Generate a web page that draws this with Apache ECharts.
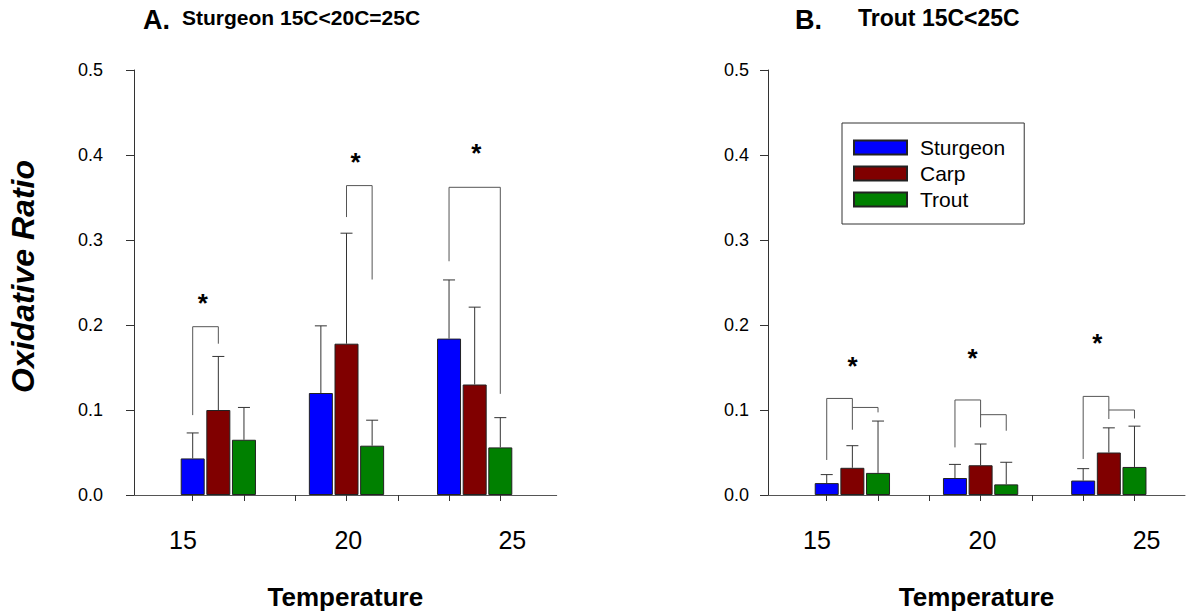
<!DOCTYPE html>
<html><head><meta charset="utf-8">
<script src="https://cdn.jsdelivr.net/npm/echarts@6/dist/echarts.min.js"></script>
<style>html,body{margin:0;padding:0;background:#fff}#c{width:1186px;height:616px}</style>
</head><body><div id="c"></div>
<script>
// ---------------- DATA ----------------
const temperatureLabels = ['15', '20', '25'];
const speciesNames = ['Sturgeon', 'Carp', 'Trout'];
const yTickLabels = ['0.0', '0.1', '0.2', '0.3', '0.4', '0.5'];

// Panel A: Sturgeon 15C<20C=25C  (means and upper error)
const sturgeonMeanA = [0.043, 0.120, 0.184];
const carpMeanA     = [0.100, 0.178, 0.130];
const troutMeanA    = [0.065, 0.058, 0.056];
const sturgeonErrA  = [0.030, 0.079, 0.069];
const carpErrA      = [0.063, 0.130, 0.091];
const troutErrA     = [0.038, 0.030, 0.035];

// Panel B: Trout 15C<25C
const sturgeonMeanB = [0.014, 0.020, 0.017];
const carpMeanB     = [0.032, 0.035, 0.050];
const troutMeanB    = [0.026, 0.0125, 0.033];
const sturgeonErrB  = [0.010, 0.016, 0.014];
const carpErrB      = [0.026, 0.025, 0.029];
const troutErrB     = [0.061, 0.026, 0.048];

// Significance brackets: [group, fromSpecies, toSpecies, yFrom, yTop, yTo]
const bracketsA = [
  [0, 0, 1, 0.094, 0.198, 0.178],
  [1, 1, 2, 0.327, 0.364, 0.2535],
  [2, 0, 2, 0.275, 0.362, 0.119]
];
const bracketsB = [
  [0, 0, 1, 0.0412, 0.1136, 0.0768],
  [0, 1, 2, 0.103, 0.103, 0.0972],
  [1, 0, 1, 0.056, 0.1118, 0.0795],
  [1, 1, 2, 0.0945, 0.0945, 0.0756],
  [2, 0, 1, 0.0424, 0.116, 0.0894],
  [2, 1, 2, 0.100, 0.100, 0.090]
];
// Significance stars: y value per group
const starYA = [0.233, 0.399, 0.410];
const starYB = [0.1588, 0.1678, 0.186];

// ---------------- LAYOUT ----------------
const FONT = "'Liberation Sans', Arial, sans-serif";
const SLOTS_PER_GROUP = 5;
const slot = (g, s) => g * SLOTS_PER_GROUP + s;
const tickSlots = [0, 2, 4, 6, 8, 10, 12];
const labelSlots = [-0.38, 6.07, 12.47];
const starOffsetA = [0.39, 1.35, 1.06];
const starOffsetB = [1.01, 0.69, 0.55];
const colors = ['#0000ff', '#800000', '#008000'];

function barSeries(means, s, axis) {
  return {
    type: 'bar', name: speciesNames[s], xAxisIndex: axis, yAxisIndex: axis,
    data: means.map((v, g) => [slot(g, s), v]),
    barWidth: 24, barGap: '-100%',
    itemStyle: { color: colors[s], borderColor: '#222', borderWidth: 1 },
    silent: true, z: 2
  };
}
function errSeries(means, errs, s, axis) {
  return {
    type: 'custom', xAxisIndex: axis, yAxisIndex: axis, silent: true, z: 3,
    data: means.map((v, g) => [slot(g, s), v, errs[g]]),
    encode: { x: 0, y: 1 },
    renderItem: (params, api) => {
      const x = api.value(0), m = api.value(1), e = api.value(2);
      const p0 = api.coord([x, m]), p1 = api.coord([x, m + e]);
      const st = { stroke: '#333', lineWidth: 1 };
      return { type: 'group', children: [
        { type: 'line', shape: { x1: p0[0], y1: p0[1], x2: p1[0], y2: p1[1] }, style: st },
        { type: 'line', shape: { x1: p1[0] - 6, y1: p1[1], x2: p1[0] + 6, y2: p1[1] }, style: st }
      ]};
    }
  };
}
function bracketSeries(br, axis) {
  return {
    type: 'custom', xAxisIndex: axis, yAxisIndex: axis, silent: true, z: 3,
    data: br.map(b => [slot(b[0], b[1]), slot(b[0], b[2]), b[3], b[4], b[5]]),
    encode: { x: [0, 1], y: [2, 3, 4] },
    renderItem: (params, api) => {
      const a = api.coord([api.value(0), api.value(2)]);
      const b = api.coord([api.value(0), api.value(3)]);
      const c = api.coord([api.value(1), api.value(3)]);
      const d = api.coord([api.value(1), api.value(4)]);
      return { type: 'polyline', shape: { points: [a, b, c, d] },
        style: { stroke: '#555', lineWidth: 1, fill: null } };
    }
  };
}
function starSeries(ys, offs, axis) {
  return {
    type: 'custom', xAxisIndex: axis, yAxisIndex: axis, silent: true, z: 4,
    data: ys.map((y, g) => [slot(g, 0) + offs[g], y]),
    encode: { x: 0, y: 1 },
    renderItem: (params, api) => {
      const p = api.coord([api.value(0), api.value(1)]);
      return { type: 'text', x: p[0], y: p[1] + 6,
        style: { text: '*', fontSize: 26, fontWeight: 'bold', fontFamily: FONT,
          fill: '#000', align: 'center', verticalAlign: 'middle' } };
    }
  };
}
function nearestLabel(v) {
  let bi = 0;
  labelSlots.forEach((p, i) => { if (Math.abs(p - v) < Math.abs(labelSlots[bi] - v)) bi = i; });
  return temperatureLabels[bi];
}
function xAxis(idx, max) {
  return {
    type: 'value', gridIndex: idx, min: -2.29, max: max,
    axisLine: { show: true, onZero: false, lineStyle: { color: '#555', width: 1 } },
    axisTick: { show: true, customValues: tickSlots, length: 6, lineStyle: { color: '#333' } },
    axisLabel: { customValues: labelSlots, formatter: nearestLabel, fontSize: 25, margin: 32,
      color: '#000', fontFamily: FONT },
    splitLine: { show: false },
    name: 'Temperature', nameLocation: 'middle', nameGap: 89,
    nameTextStyle: { fontSize: 26, fontWeight: 'bold', color: '#000', fontFamily: FONT }
  };
}
function yAxis(idx, margin, withName) {
  const ax = {
    type: 'value', gridIndex: idx, min: 0, max: 0.5, interval: 0.1,
    axisLine: { show: true, onZero: false, lineStyle: { color: '#333', width: 1 } },
    axisTick: { show: true, length: 8, lineStyle: { color: '#333' } },
    axisLabel: { fontSize: 18, margin: margin, color: '#000', fontFamily: FONT,
      formatter: v => yTickLabels[Math.round(v * 10)] },
    splitLine: { show: false }
  };
  if (withName) {
    Object.assign(ax, { name: 'Oxidative Ratio', nameLocation: 'middle', nameGap: 95, nameRotate: 90,
      nameTextStyle: { fontSize: 32, fontWeight: 'bold', fontStyle: 'italic', color: '#000',
        fontFamily: FONT, padding: [0, 0, 0, 12] } });
  }
  return ax;
}

const chart = echarts.init(document.getElementById('c'), null, { renderer: 'svg' });
chart.setOption({
  animation: false,
  backgroundColor: '#fff',
  textStyle: { fontFamily: FONT },
  title: [
    { text: 'A.', left: 143, top: 6, padding: 0, textStyle: { fontSize: 27, fontWeight: 'bold', color: '#000', fontFamily: FONT } },
    { text: 'Sturgeon 15C<20C=25C', left: 182, top: 7, padding: 0, textStyle: { fontSize: 21, fontWeight: 'bold', color: '#000', fontFamily: FONT } },
    { text: 'B.', left: 795, top: 6, padding: 0, textStyle: { fontSize: 27, fontWeight: 'bold', color: '#000', fontFamily: FONT } },
    { text: 'Trout 15C<25C', left: 858, top: 6, padding: 0, textStyle: { fontSize: 23, fontWeight: 'bold', color: '#000', fontFamily: FONT } }
  ],
  legend: {
    orient: 'vertical', left: 842, top: 123, data: speciesNames, icon: 'rect',
    itemWidth: 53, itemHeight: 14, itemGap: 5, padding: [14, 19, 14, 11],
    borderColor: '#333', borderWidth: 1, selectedMode: false,
    textStyle: { fontSize: 21, color: '#000', padding: [0, 0, 0, 8], fontFamily: FONT }
  },
  grid: [
    { left: 134, top: 70, width: 422.7, height: 425, outerBoundsMode: 'none', containLabel: false },
    { left: 768, top: 70, width: 417, height: 425, outerBoundsMode: 'none', containLabel: false }
  ],
  xAxis: [xAxis(0, 14.2), xAxis(1, 13.97)],
  yAxis: [yAxis(0, 31, true), yAxis(1, 19, false)],
  series: [
    barSeries(sturgeonMeanA, 0, 0), barSeries(carpMeanA, 1, 0), barSeries(troutMeanA, 2, 0),
    barSeries(sturgeonMeanB, 0, 1), barSeries(carpMeanB, 1, 1), barSeries(troutMeanB, 2, 1),
    errSeries(sturgeonMeanA, sturgeonErrA, 0, 0), errSeries(carpMeanA, carpErrA, 1, 0), errSeries(troutMeanA, troutErrA, 2, 0),
    errSeries(sturgeonMeanB, sturgeonErrB, 0, 1), errSeries(carpMeanB, carpErrB, 1, 1), errSeries(troutMeanB, troutErrB, 2, 1),
    bracketSeries(bracketsA, 0), bracketSeries(bracketsB, 1),
    starSeries(starYA, starOffsetA, 0), starSeries(starYB, starOffsetB, 1)
  ]
});
</script></body></html>
